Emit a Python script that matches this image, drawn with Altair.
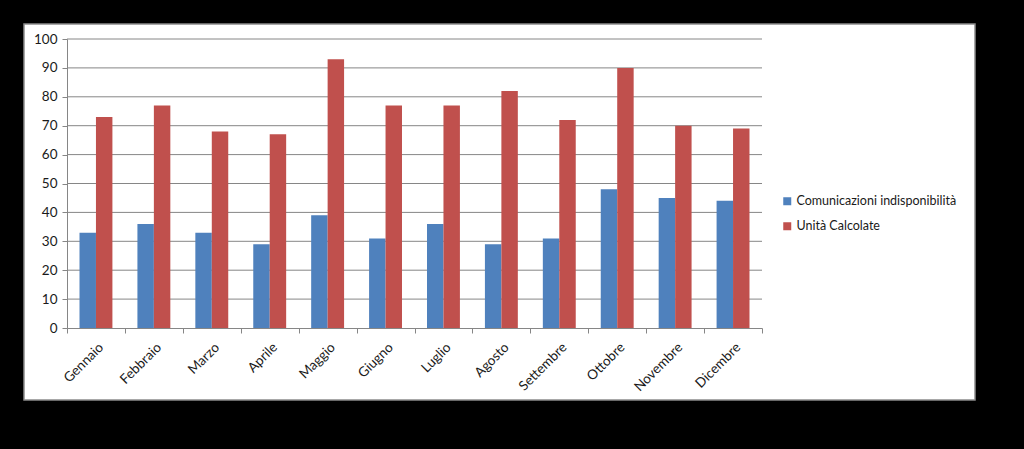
import altair as alt
import pandas as pd

mesi = ["Gennaio", "Febbraio", "Marzo", "Aprile", "Maggio", "Giugno",
        "Luglio", "Agosto", "Settembre", "Ottobre", "Novembre", "Dicembre"]
comunicazioni = [33, 36, 33, 29, 39, 31, 36, 29, 31, 48, 45, 44]
unita = [73, 77, 68, 67, 93, 77, 77, 82, 72, 90, 70, 69]
serie = ["Comunicazioni indisponibilità", "Unità Calcolate"]
colori = ["#4F81BD", "#C0504D"]
y_ticks = list(range(0, 101, 10))

rows = []
for i, m in enumerate(mesi):
    rows.append({"mese": m, "serie": serie[0], "valore": comunicazioni[i]})
    rows.append({"mese": m, "serie": serie[1], "valore": unita[i]})
df = pd.DataFrame(rows)
grid_df = pd.DataFrame({"valore": y_ticks[1:]})

FONT = "Lato"
GRAY = "#868686"

y_scale = alt.Scale(domain=[0, 100], nice=False)
y_axis = alt.Axis(values=y_ticks, grid=False, labelOverlap=False,
                  domainColor=GRAY, tickColor=GRAY, tickSize=5,
                  labelPadding=5, labelFontSize=13.5, labelColor="#1a1a1a",
                  labelFont=FONT, zindex=1)

box = alt.Chart(alt.Data(values=[{}])).mark_rect(
    fill="white", stroke="#8c8c8c", strokeWidth=1.5
).encode(
    x=alt.value(-43), x2=alt.value(908), y=alt.value(-15), y2=alt.value(361)
)

grid = alt.Chart(grid_df).mark_rule(color=GRAY, strokeWidth=1).encode(
    y=alt.Y("valore:Q", title=None, scale=y_scale, axis=y_axis),
    x=alt.value(0), x2=alt.value(695),
)

bars = alt.Chart(df).mark_bar().encode(
    x=alt.X("mese:N", sort=mesi, title=None,
            scale=alt.Scale(paddingInner=0, paddingOuter=0),
            axis=alt.Axis(labelAngle=-45, labelAlign="right", labelBaseline="top",
                          tickBand="extent", domainColor=GRAY, tickColor=GRAY,
                          tickSize=5, labelPadding=7, labelFontSize=13.5,
                          labelOverlap=False,
                          labelColor="#1a1a1a", labelFont=FONT, zindex=1)),
    xOffset=alt.XOffset("serie:N", sort=serie,
                        scale=alt.Scale(paddingInner=0, paddingOuter=0.76)),
    y=alt.Y("valore:Q", title=None, scale=y_scale, axis=y_axis),
    color=alt.Color("serie:N", sort=serie,
                    scale=alt.Scale(domain=serie, range=colori),
                    legend=alt.Legend(title=None, orient="none", legendX=714, legendY=156,
                                      symbolType="square", symbolSize=64,
                                      symbolStrokeWidth=0, labelFontSize=12.5,
                                      labelFont=FONT, labelColor="#1a1a1a",
                                      rowPadding=12, labelOffset=3)),
)

chart = alt.layer(box, grid, bars).properties(
    width=695, height=289,
    background="black",
    padding={"left": 67, "top": 39, "right": 262, "bottom": 121},
    autosize=alt.AutoSizeParams(type="none"),
).configure_view(stroke=None)

chart.save("out.html", embed_options={"renderer": "svg", "actions": False})
